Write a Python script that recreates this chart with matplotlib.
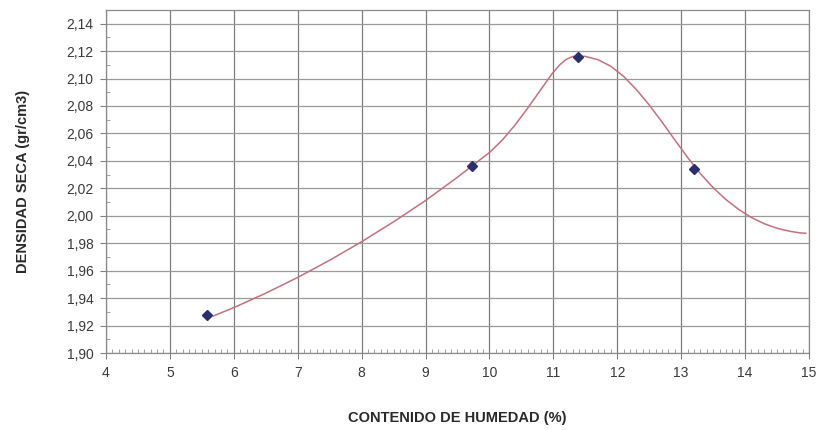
import matplotlib
matplotlib.use("Agg")
import matplotlib.pyplot as plt
from matplotlib.ticker import MultipleLocator, FuncFormatter

plt.rcParams['font.family'] = ['Liberation Sans', 'DejaVu Sans']

# ensayo Proctor: puntos medidos
humedad = [5.58, 9.72, 11.38, 13.2]
densidad = [1.928, 2.036, 2.116, 2.034]

# curva de compactacion (leida punto a punto)
curva_x = [5.68, 6.0, 6.5, 7.0, 7.5, 8.0, 8.5, 9.0, 9.5, 10.0, 10.2, 10.4, 10.6,
           10.8, 10.98, 11.1, 11.2, 11.3, 11.38, 11.5, 11.7, 11.9, 12.1, 12.3,
           12.5, 12.7, 12.9, 13.1, 13.3, 13.5, 13.7, 13.9, 14.1, 14.3, 14.5,
           14.7, 14.85, 14.95]
curva_y = [1.927, 1.9331, 1.9436, 1.9551, 1.9676, 1.9811, 1.9956, 2.0111, 2.0281,
           2.0461, 2.0551, 2.0661, 2.0785, 2.0917, 2.1035, 2.1100, 2.1139, 2.1160,
           2.1165, 2.1161, 2.1137, 2.1089, 2.1015, 2.0919, 2.0807, 2.0683, 2.0553,
           2.0425, 2.0307, 2.0205, 2.0118, 2.0046, 1.9987, 1.9942, 1.9909,
           1.9887, 1.9876, 1.9872]

fig = plt.figure(figsize=(8.19, 4.30), dpi=100)
ax = fig.add_axes([0.1294, 0.179, 0.8584, 0.798])

ax.plot(curva_x, curva_y, color='#c4707c', lw=1.1, zorder=3)
ax.plot(humedad, densidad, 'D', color='#2c2f6e', ms=5, zorder=4)

ax.set_xlim(4, 15)
ax.set_ylim(1.90, 2.15)
ax.xaxis.set_major_locator(MultipleLocator(1))
ax.xaxis.set_minor_locator(MultipleLocator(0.1))
ax.set_yticks([1.90 + 0.02 * i for i in range(13)])
ax.yaxis.set_minor_locator(MultipleLocator(0.01))
ax.yaxis.set_major_formatter(FuncFormatter(lambda v, p: f"{v:.2f}".replace('.', ',')))

ax.grid(True, which='major', axis='y', color='#9a9a9a', lw=0.9)
ax.grid(True, which='major', axis='x', color='#7d7d7d', lw=0.9)
ax.set_axisbelow(True)

ax.tick_params(which='major', direction='out', length=4, width=0.8, color='#808080',
               labelsize=10, labelcolor='#3a3a3a', pad=5)
ax.tick_params(which='minor', direction='in', length=3, width=0.6, color='#909090')
for s in ax.spines.values():
    s.set_color('#8a8a8a')
    s.set_linewidth(0.9)

ax.set_xlabel('CONTENIDO DE HUMEDAD (%)', fontsize=10.5, fontweight='bold',
              color='#2a2a2a', labelpad=23)
ax.set_ylabel('DENSIDAD SECA (gr/cm3)', fontsize=10.5, fontweight='bold',
              color='#2a2a2a', labelpad=26)

fig.savefig('out.png', dpi=100, facecolor='white')
